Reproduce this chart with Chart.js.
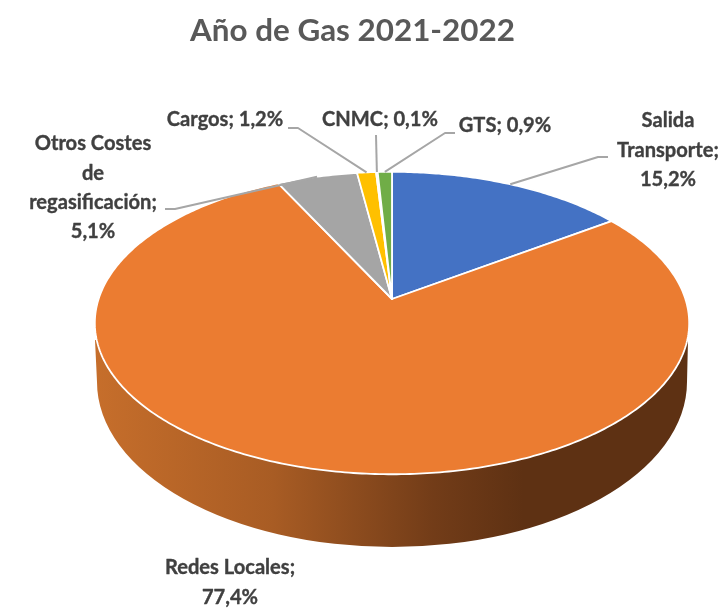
<!DOCTYPE html>
<html lang="es">
<head>
<meta charset="utf-8">
<style>html,body{margin:0;padding:0;background:#fff}canvas{display:block}</style>
<script src="https://cdn.jsdelivr.net/npm/chart.js@4"></script>
</head>
<body>
<canvas id="c" width="725" height="608"></canvas>
<script>
const categories = ['Salida Transporte', 'Redes Locales', 'Otros Costes de regasificación', 'Cargos', 'CNMC', 'GTS'];
const values = [15.2, 77.4, 5.1, 1.2, 0.1, 0.9];
const sliceColors = ['#4472C4', '#EB7C31', '#A5A5A5', '#FFC000', '#5B9BD5', '#70AD47'];
const labelLines = [['Salida', 'Transporte;'], ['Redes Locales;'], ['Otros Costes', 'de', 'regasificación;'], ['Cargos;'], ['CNMC;'], ['GTS;']];
const chartTitle = 'Año de Gas 2021-2022';

// Layout of the labels: centre x, first baseline-middle y, inline value or not, leader elbow
const labelLayout = [
  {x: 668, y: 121, inline: false, leader: [[608, 157], [598, 157]]},
  {x: 230, y: 568, inline: false, leader: null},
  {x: 93,  y: 144, inline: false, leader: [[165, 209], [175, 209]]},
  {x: 225, y: 120, inline: true,  leader: [[288, 128], [298, 128]]},
  {x: 380, y: 120, inline: true,  leader: [[376, 135]]},
  {x: 505, y: 126, inline: true,  leader: [[455, 133], [445, 133]]}
];

// Perspective of the disc (tilted plane)
const view = {cx: 392, apexY: 299, a: 293.4, b: 147.4, p: 0.159};
const base = {cy: 382, rx: 295, ry: 165};
const lineH = 29.3;

function project(angle) {
  const t = angle + Math.PI / 2, u = Math.sin(t), v = -Math.cos(t), d = 1 - view.p * v;
  return [view.cx + view.a * u / d, view.apexY + view.b * v / d];
}

const pie3d = {
  id: 'pie3d',
  beforeDatasetsDraw(chart) {
    const ctx = chart.ctx, arcs = chart.getDatasetMeta(0).data;
    ctx.save();

    // side wall, seen only below the front slice
    const g = ctx.createLinearGradient(95, 0, 690, 0);
    g.addColorStop(0, '#C66E2B');
    g.addColorStop(0.3, '#A85C24');
    g.addColorStop(0.57, '#723C18');
    g.addColorStop(0.72, '#5E3113');
    g.addColorStop(1, '#5E3113');
    ctx.beginPath();
    ctx.moveTo(view.cx + base.rx + 1, 340);
    ctx.lineTo(view.cx + base.rx, base.cy);
    ctx.ellipse(view.cx, base.cy, base.rx, base.ry, 0, 0, Math.PI);
    ctx.lineTo(view.cx - base.rx - 2, 340);
    ctx.closePath();
    ctx.fillStyle = g;
    ctx.fill();

    // top face: each slice from the angles computed by the pie controller
    arcs.forEach((arc, i) => {
      const {startAngle, endAngle} = arc.getProps(['startAngle', 'endAngle'], true);
      ctx.beginPath();
      ctx.moveTo(view.cx, view.apexY);
      const n = Math.max(4, Math.ceil((endAngle - startAngle) * 80));
      for (let k = 0; k <= n; k++) {
        const pt = project(startAngle + (endAngle - startAngle) * k / n);
        ctx.lineTo(pt[0], pt[1]);
      }
      ctx.closePath();
      ctx.fillStyle = sliceColors[i];
      ctx.fill();
      ctx.strokeStyle = '#FFFFFF';
      ctx.lineWidth = 1.8;
      ctx.lineJoin = 'round';
      ctx.stroke();
    });

    // leader lines
    ctx.strokeStyle = '#A6A6A6';
    ctx.lineWidth = 2;
    arcs.forEach((arc, i) => {
      const lay = labelLayout[i];
      if (!lay.leader) return;
      const {startAngle, endAngle} = arc.getProps(['startAngle', 'endAngle'], true);
      const end = project((startAngle + endAngle) / 2);
      ctx.beginPath();
      lay.leader.forEach((p, k) => k ? ctx.lineTo(p[0], p[1]) : ctx.moveTo(p[0], p[1]));
      ctx.lineTo(end[0], end[1]);
      ctx.stroke();
    });

    // data labels
    ctx.fillStyle = '#404040';
    ctx.strokeStyle = '#404040';
    ctx.lineWidth = 0.35;
    ctx.font = 'bold 20.1px Lato, "Open Sans", sans-serif';
    ctx.textAlign = 'center';
    ctx.textBaseline = 'middle';
    categories.forEach((name, i) => {
      const lay = labelLayout[i];
      const pct = values[i].toFixed(1).replace('.', ',') + '%';
      const lines = labelLines[i].slice();
      if (lay.inline) lines[lines.length - 1] += ' ' + pct; else lines.push(pct);
      lines.forEach((t, k) => {
        ctx.fillText(t, lay.x, lay.y + k * lineH);
        ctx.strokeText(t, lay.x, lay.y + k * lineH);
      });
    });

    ctx.restore();
    return false;
  }
};

new Chart(document.getElementById('c'), {
  type: 'pie',
  data: {
    labels: categories,
    datasets: [{data: values, backgroundColor: sliceColors, borderColor: '#FFFFFF', borderWidth: 2}]
  },
  options: {
    responsive: false,
    animation: false,
    rotation: 0,
    layout: {padding: {right: 20}},
    plugins: {
      legend: {display: false},
      tooltip: {enabled: false},
      title: {
        display: true,
        fullSize: false,
        text: chartTitle,
        color: '#595959',
        font: {family: 'Lato, "Open Sans", sans-serif', size: 31.4, weight: 'bold'},
        padding: {top: 12, bottom: 10}
      }
    }
  },
  plugins: [pie3d]
});
</script>
</body>
</html>
